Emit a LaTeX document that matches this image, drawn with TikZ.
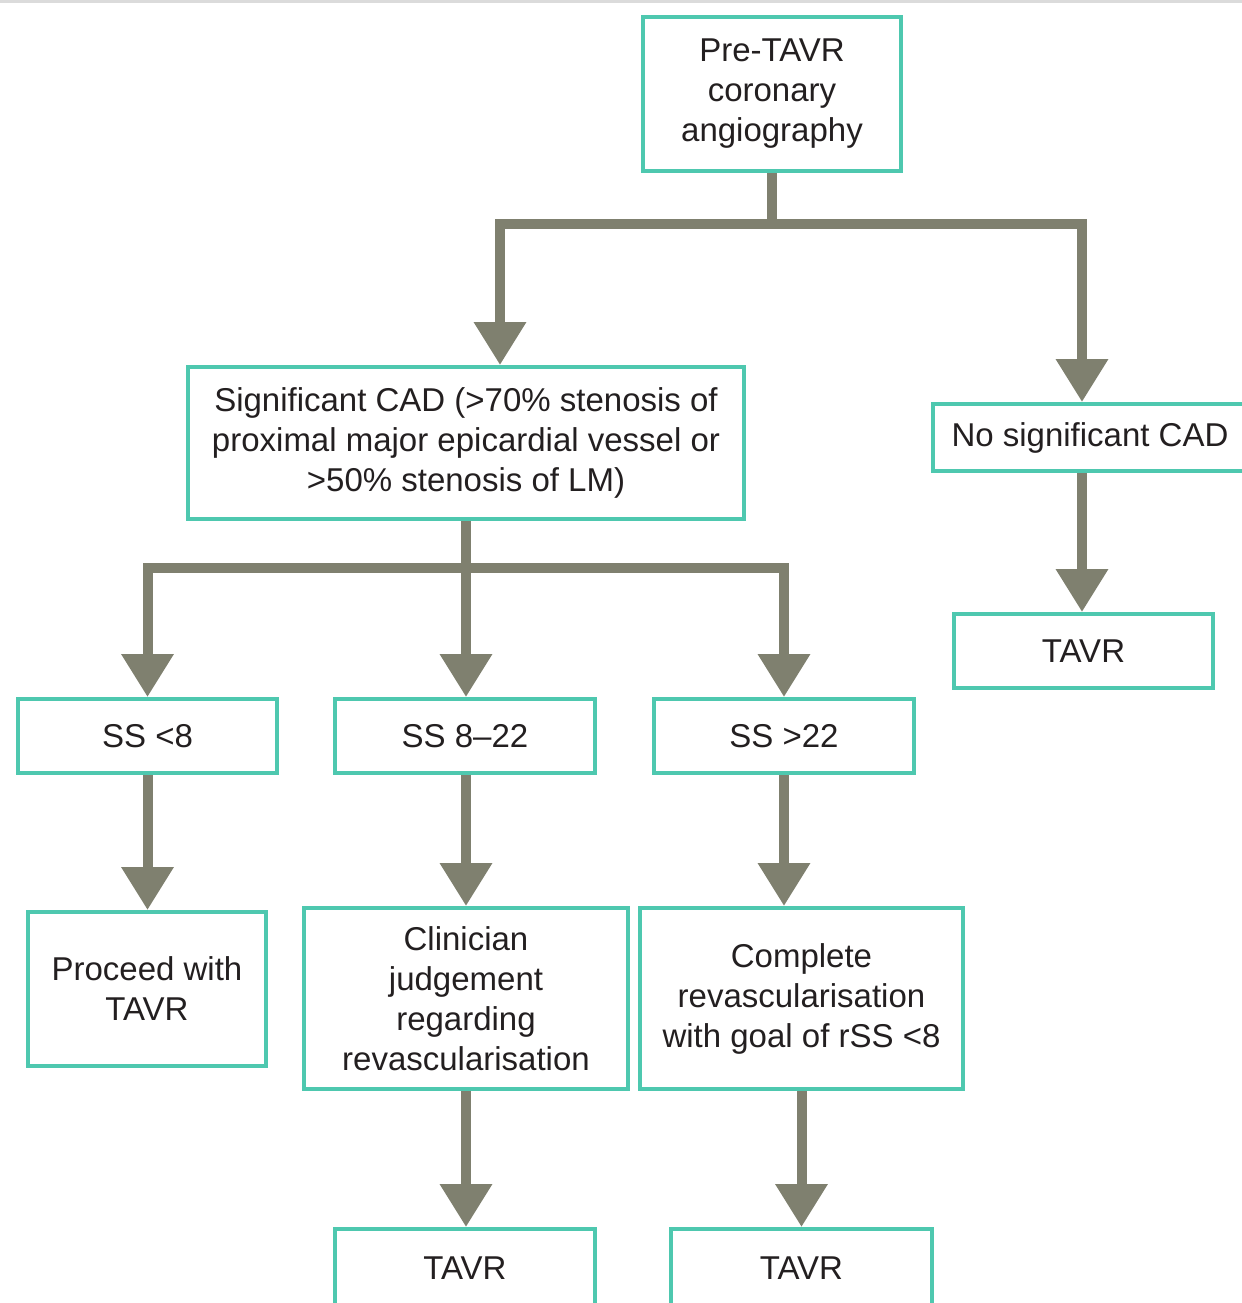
\documentclass[tikz,border=0pt]{standalone}
\usepackage{fontspec}
\setmainfont{Liberation Sans}
\usetikzlibrary{arrows.meta}
\definecolor{boxteal}{RGB}{78,200,175}
\definecolor{conngray}{RGB}{127,128,111}
\definecolor{txtgray}{RGB}{35,31,32}
\begin{document}
\begin{tikzpicture}[x=0.5pt,y=-0.5pt,
  box/.style={draw=boxteal, line width=2pt, fill=white, inner sep=0pt, align=center,
    text=txtgray, font=\fontsize{16.5pt}{20pt}\selectfont},
  link/.style={draw=conngray, line width=5pt, line join=miter},
  arr/.style={link, -{Triangle[width=25pt,length=21.5pt]}}]
\useasboundingbox (0,0) rectangle (1242,1303);
\clip (0,0) rectangle (1242,1303);
\fill[black!14] (0,0) rectangle (1242,3);

\node[box, minimum width=129pt, minimum height=77pt] (top) at (772,94) {Pre-TAVR\\coronary\\angiography};
\node[box, minimum width=278pt, minimum height=76pt] (sig) at (466,443) {Significant CAD (>70\% stenosis of\\proximal major epicardial vessel or\\>50\% stenosis of LM)};
\node[box, minimum width=157pt, minimum height=33.5pt] (nosig) at (1090,437.5) {No significant CAD};
\node[box, minimum width=129.5pt, minimum height=37pt] (tavrR) at (1083.5,651) {TAVR};
\node[box, minimum width=129.5pt, minimum height=37pt] (ss1) at (147.5,736) {SS <8};
\node[box, minimum width=130pt, minimum height=37pt] (ss2) at (465,736) {SS 8--22};
\node[box, minimum width=130pt, minimum height=37pt] (ss3) at (784,736) {SS >22};
\node[box, minimum width=119pt, minimum height=77pt] (proc) at (147,989) {Proceed with\\TAVR};
\node[box, minimum width=162pt, minimum height=90.5pt] (clin) at (466,998.5) {Clinician\\judgement\\regarding\\revascularisation};
\node[box, minimum width=161.5pt, minimum height=90.5pt] (comp) at (801.5,998.5) {Complete\\revascularisation\\with goal of rSS <8};
\node[box, minimum width=130pt, minimum height=39.5pt] (tavr1) at (465,1268.5) {TAVR};
\node[box, minimum width=130.5pt, minimum height=39.5pt] (tavr2) at (801.5,1268.5) {TAVR};

\coordinate (j1) at (772,224);
\coordinate (sigin) at (500,365);
\coordinate (nosigin) at (1082,402);
\coordinate (j2) at (466,568);

\draw[link] (top.south) -- (j1);
\draw[arr] (j1) -| (sigin);
\draw[arr] (j1) -| (nosigin);
\draw[link] (sig.south) -- (j2);
\draw[arr] (j2) -| (ss1.north);
\draw[arr] (j2) -- (j2 |- ss2.north);
\draw[arr] (j2) -| (ss3.north);
\draw[arr] (nosigin |- nosig.south) -- (nosigin |- tavrR.north);
\draw[arr] (ss1.south) -- (ss1.south |- proc.north);
\draw[arr] (j2 |- ss2.south) -- (j2 |- clin.north);
\draw[arr] (ss3.south) -- (ss3.south |- comp.north);
\draw[arr] (clin.south) -- (clin.south |- tavr1.north);
\draw[arr] (comp.south) -- (comp.south |- tavr2.north);
\end{tikzpicture}
\end{document}
